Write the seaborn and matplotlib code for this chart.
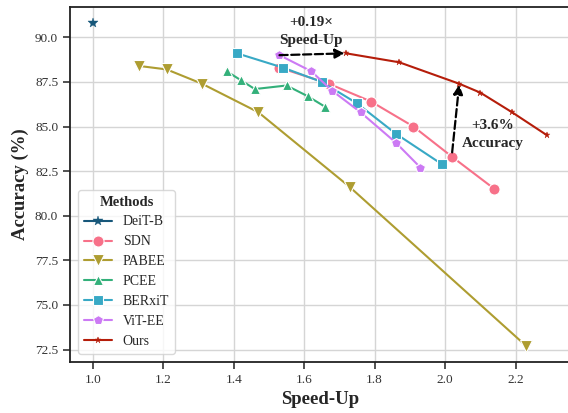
import matplotlib
matplotlib.use("Agg")
import matplotlib.pyplot as plt
import seaborn as sns
import pandas as pd

methods = ["DeiT-B", "SDN", "PABEE", "PCEE", "BERxiT", "ViT-EE", "Ours"]

deit_x = [1.0]
deit_y = [90.8]
sdn_x = [1.53, 1.67, 1.79, 1.91, 2.02, 2.14]
sdn_y = [88.3, 87.4, 86.4, 85.0, 83.3, 81.5]
pabee_x = [1.13, 1.21, 1.31, 1.47, 1.73, 2.23]
pabee_y = [88.4, 88.2, 87.4, 85.8, 81.6, 72.7]
pcee_x = [1.38, 1.42, 1.46, 1.55, 1.61, 1.66]
pcee_y = [88.1, 87.6, 87.1, 87.3, 86.7, 86.1]
berxit_x = [1.41, 1.54, 1.65, 1.75, 1.86, 1.99]
berxit_y = [89.1, 88.3, 87.5, 86.3, 84.6, 82.9]
vitee_x = [1.53, 1.62, 1.68, 1.76, 1.86, 1.93]
vitee_y = [89.0, 88.1, 87.0, 85.8, 84.1, 82.7]
ours_x = [1.72, 1.87, 2.04, 2.10, 2.19, 2.29]
ours_y = [89.1, 88.6, 87.4, 86.9, 85.8, 84.5]

xs = [deit_x, sdn_x, pabee_x, pcee_x, berxit_x, vitee_x, ours_x]
ys = [deit_y, sdn_y, pabee_y, pcee_y, berxit_y, vitee_y, ours_y]

sns.set_theme(style="ticks")
plt.rcParams["font.family"] = ["Liberation Serif", "DejaVu Serif"]

husl = sns.color_palette("husl", 5)
colors = ["#17577a"] + list(husl) + ["#b51d0a"]
markers = ["*", "o", "v", "^", "s", "p", "*"]
msizes = [7.5, 8, 8, 7.5, 7.5, 7.5, 5]
edges = [None, "white", "white", "white", "white", "white", None]

fig = plt.figure(figsize=(5.68, 4.13), dpi=100)
ax = fig.add_axes([70 / 568, 51 / 413, 500 / 568, 355 / 413])
ax.grid(True, color="#d5d5d5", linewidth=1.0)
ax.set_axisbelow(True)

for m, x, y, c, mk, ms, ec in zip(methods, xs, ys, colors, markers, msizes, edges):
    df = pd.DataFrame({"Speed-Up": x, "Accuracy": y})
    sns.lineplot(data=df, x="Speed-Up", y="Accuracy", ax=ax, color=c, marker=mk,
                 markersize=ms, linewidth=1.5, label=m, sort=False,
                 markeredgecolor=ec if ec else c,
                 markeredgewidth=0.8 if ec else 0.3)

ax.set_xlim(0.9355, 2.3545)
ax.set_ylim(71.8, 91.7)
ax.set_xticks([1.0, 1.2, 1.4, 1.6, 1.8, 2.0, 2.2])
ax.set_yticks([72.5, 75.0, 77.5, 80.0, 82.5, 85.0, 87.5, 90.0])
ax.tick_params(labelsize=9.5, colors="#333333", length=5, width=1.2)
for s in ax.spines.values():
    s.set_color("#222222")
    s.set_linewidth(1.3)
ax.set_xlabel("Speed-Up", fontsize=13.5, fontweight="bold")
ax.set_ylabel("Accuracy (%)", fontsize=13.5, fontweight="bold")

# annotations
ax.annotate("", xy=(ours_x[0] - 0.005, ours_y[0]), xytext=(vitee_x[0], vitee_y[0]),
            arrowprops=dict(arrowstyle="-|>", linestyle="--", color="black", lw=1.6,
                            mutation_scale=14, shrinkA=0, shrinkB=0))
ax.text(1.62, 90.3, "+0.19×\nSpeed-Up", ha="center", va="center", fontsize=11,
        fontweight="bold", linespacing=1.5)
ax.annotate("", xy=(ours_x[2], ours_y[2] - 0.05), xytext=(sdn_x[4], sdn_y[4] + 0.25),
            arrowprops=dict(arrowstyle="-|>", linestyle="--", color="black", lw=1.6,
                            mutation_scale=14, shrinkA=0, shrinkB=0))
ax.text(2.135, 84.55, "+3.6%\nAccuracy", ha="center", va="center", fontsize=11,
        fontweight="bold", linespacing=1.5)

leg = ax.legend(title="Methods", loc="lower left", fontsize=10, frameon=True,
                borderaxespad=0.6)
leg.get_title().set_fontweight("bold")
leg.get_title().set_fontsize(10.5)
leg.get_frame().set_edgecolor("#d0d0d0")

fig.savefig("out.png", dpi=100)
